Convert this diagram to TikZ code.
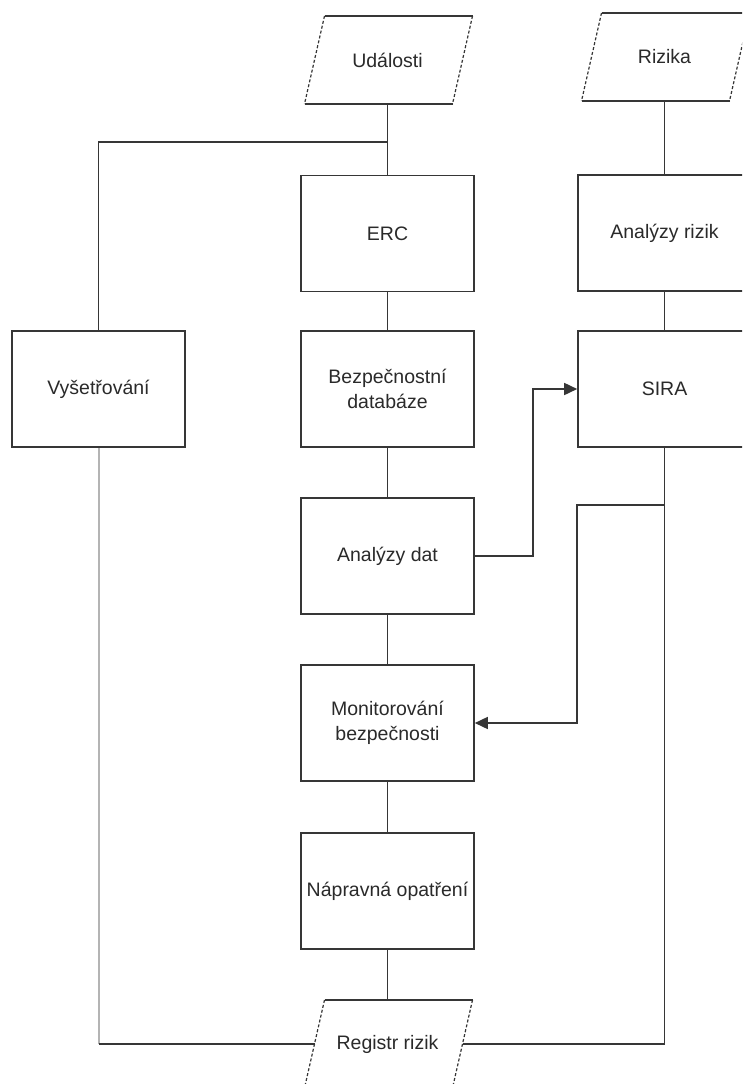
\documentclass[tikz,border=0pt]{standalone}
\usepackage{fontspec}
\setmainfont{Liberation Sans}
\usetikzlibrary{arrows.meta}
\definecolor{ink}{HTML}{2A2A2A}
\definecolor{wire}{HTML}{363636}
\definecolor{greywire}{HTML}{B4B4B4}

% input/output parallelogram: name, x, y, text
% solid top and bottom edges, dashed slanted sides
\newcommand{\iofigure}[4]{%
  \node[iotext] (#1) at (#2,#3) {#4};
  \coordinate (#1-l) at (#2-73,#3);
  \coordinate (#1-r) at (#2+75,#3);
  \draw[wireline] (#2-63,#3-44) -- (#2+85,#3-44);
  \draw[wireline] (#2-83,#3+44) -- (#2+65,#3+44);
  \draw[slant] (#2-63,#3-44) -- (#2-83,#3+44);
  \draw[slant] (#2+85,#3-44) -- (#2+65,#3+44);
}

\begin{document}
\begin{tikzpicture}[x=1pt,y=-1pt,
  txt/.style={text=ink,font=\fontsize{19.5}{25}\selectfont,align=center},
  box/.style={txt,draw=wire,line width=1.6pt,fill=white,
    minimum width=173pt,minimum height=116pt,inner sep=0pt},
  iotext/.style={txt,minimum width=148pt,minimum height=88pt,inner sep=0pt},
  wireline/.style={draw=wire,line width=1.6pt},
  slant/.style={draw=wire,line width=1.2pt,dash pattern=on 3pt off 2pt},
  tip/.style={-{Triangle[length=13pt,width=12pt]}}
]
\useasboundingbox (0,0) rectangle (742,1084);
\fill[white] (0,0) rectangle (742,1084);
\clip (0,0) rectangle (742,1084);

% data sources and the risk register
\iofigure{ud}{387.5}{60}{Události}
\iofigure{riz}{664.5}{57}{Rizika}
\iofigure{reg}{387.5}{1044}{Registr rizik}

% process boxes
\node[box] (erc) at (387.5,233.5) {ERC};
\node[box] (bez) at (387.5,389) {Bezpečnostní\\databáze};
\node[box] (ad)  at (387.5,556) {Analýzy dat};
\node[box] (mon) at (387.5,723) {Monitorování\\bezpečnosti};
\node[box] (nap) at (387.5,891) {Nápravná opatření};
\node[box] (vys) at (98.5,389) {Vyšetřování};
\node[box] (ar)  at (664.5,233) {Analýzy rizik};
\node[box] (sira) at (664.5,389) {SIRA};

% main chain
\coordinate (j1) at (387.5,142);
\draw[wireline] (ud.south) -- (erc.north);
\draw[wireline] (j1) -| (vys.north);
\draw[wireline] (erc.south) -- (bez.north);
\draw[wireline] (bez.south) -- (ad.north);
\draw[wireline] (ad.south) -- (mon.north);
\draw[wireline] (mon.south) -- (nap.north);
\draw[wireline] (nap.south) -- (reg.north);

% risk chain
\draw[wireline] (riz.south) -- (ar.north);
\draw[wireline] (ar.south) -- (sira.north);
\draw[wireline] (sira.south) -- (sira.south |- reg-r) -- (reg-r);

% investigation feeds the register
\draw[draw=greywire,line width=2pt] (vys.south) -- (vys.south |- reg-l);
\draw[wireline] (vys.south |- reg-l) -- (reg-l);

% arrows
\draw[wireline,tip] (ad.east) -- ++(58,0) |- (sira.west);
\coordinate (j2) at (664.5,505);
\draw[wireline,tip] (j2) -- (sira.west |- j2) |- (mon.east);
\end{tikzpicture}
\end{document}
